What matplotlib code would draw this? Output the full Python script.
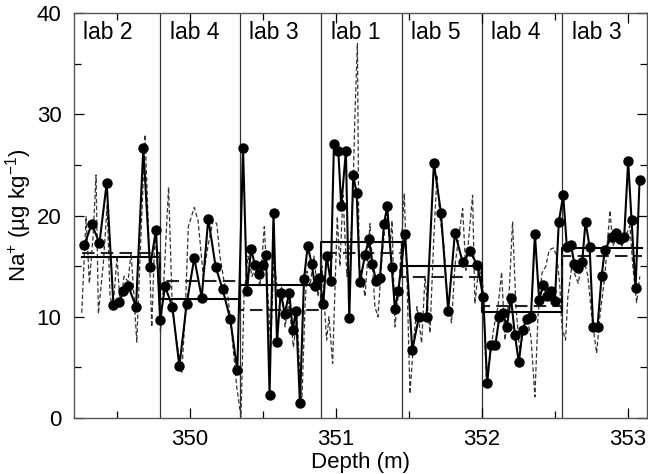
import numpy as np
import matplotlib
matplotlib.use("Agg")
import matplotlib.pyplot as plt

plt.rcParams['font.family'] = ['Liberation Sans', 'DejaVu Sans']
plt.rcParams['mathtext.fontset'] = 'custom'
plt.rcParams['mathtext.rm'] = 'Liberation Sans'
plt.rcParams['mathtext.it'] = 'Liberation Sans:italic'

# ---- data ----
depth = [349.276, 349.327, 349.379, 349.429, 349.475, 349.516, 349.543, 349.577, 349.630, 349.680,
         349.726, 349.767, 349.795,
         349.829, 349.879, 349.927, 349.977, 350.029, 350.080, 350.125, 350.176, 350.224, 350.276,
         350.324,
         350.363, 350.390, 350.418, 350.445, 350.473, 350.500, 350.521, 350.545, 350.572, 350.596,
         350.621, 350.649, 350.680, 350.703, 350.726, 350.753, 350.781, 350.806, 350.834, 350.856,
         350.886,
         350.913, 350.936, 350.964, 350.986, 351.016, 351.036, 351.068, 351.091, 351.118, 351.142,
         351.164, 351.199, 351.226, 351.249, 351.276, 351.301, 351.329, 351.351, 351.382, 351.404,
         351.427,
         351.473, 351.523, 351.568, 351.621, 351.671, 351.719, 351.769, 351.815, 351.868, 351.918,
         351.968,
         352.009, 352.036, 352.062, 352.092, 352.120, 352.144, 352.171, 352.199, 352.226, 352.253,
         352.279, 352.306, 352.336, 352.363, 352.392, 352.420, 352.449, 352.473, 352.500, 352.527,
         352.557, 352.582, 352.610, 352.634, 352.661, 352.687, 352.710, 352.738, 352.762, 352.792,
         352.820, 352.842, 352.888, 352.918, 352.945, 352.975, 353.002, 353.025, 353.053, 353.080]
na = [17.1, 19.2, 17.25, 23.2, 11.2, 11.5, 12.5, 13.0, 11.0, 26.7,
      14.9, 18.6, 9.7,
      13.0, 11.0, 5.1, 11.3, 15.8, 11.9, 19.7, 14.9, 12.7, 9.75,
      4.7,
      26.7, 12.5, 16.7, 15.1, 14.2, 15.1, 16.1, 2.3, 20.3, 7.5,
      12.4, 10.3, 12.4, 8.7, 10.6, 1.45, 13.7, 17.0, 15.2, 13.0,
      13.8,
      11.3, 16.0, 13.5, 27.1, 26.4, 20.9, 26.4, 9.85, 24.0, 22.2,
      13.4, 16.1, 17.7, 15.2, 13.5, 13.8, 19.2, 20.9, 14.9, 10.8,
      12.5,
      18.2, 6.7, 10.0, 10.0, 25.2, 20.3, 10.6, 18.3, 15.4, 16.5,
      15.1,
      12.0, 3.5, 7.2, 7.2, 10.0, 10.4, 9.0, 11.9, 8.2, 5.5,
      8.7, 9.8, 10.0, 18.2, 11.7, 13.1, 12.1, 12.5, 11.6, 19.4,
      22.0, 16.9, 17.1, 15.2, 14.8, 15.4, 19.4, 16.9, 9.0, 9.0,
      14.0, 16.6, 17.9, 18.3, 17.7, 17.9, 25.4, 19.6, 12.8, 23.5]

depth_hr = [349.258, 349.288, 349.310, 349.336, 349.356, 349.372, 349.406, 349.432, 349.452, 349.473,
            349.500, 349.521, 349.548, 349.575, 349.596, 349.616, 349.635, 349.658, 349.692, 349.712,
            349.738, 349.760, 349.781, 349.798, 349.822, 349.853, 349.879, 349.904, 349.943, 349.966,
            349.988, 350.029, 350.055, 350.091, 350.123, 350.158, 350.183, 350.205, 350.233, 350.260,
            350.288, 350.320, 350.349, 350.370, 350.397, 350.425, 350.452, 350.479, 350.509, 350.527,
            350.553, 350.575, 350.603, 350.630, 350.651, 350.678, 350.708, 350.733, 350.765, 350.788,
            350.801, 350.822, 350.849, 350.877, 350.904, 350.936, 350.952, 350.977, 351.009, 351.027,
            351.048, 351.075, 351.103, 351.116, 351.130, 351.147, 351.158, 351.178, 351.199, 351.233,
            351.267, 351.288, 351.315, 351.347, 351.370, 351.384, 351.404, 351.432, 351.468, 351.486,
            351.507, 351.534, 351.555, 351.587, 351.610, 351.644, 351.671, 351.692, 351.712, 351.740,
            351.767, 351.792, 351.815, 351.842, 351.868, 351.890, 351.936, 351.952, 351.979, 352.007,
            352.032, 352.055, 352.082, 352.110, 352.135, 352.158, 352.185, 352.210, 352.233, 352.260,
            352.288, 352.308, 352.336, 352.363, 352.384, 352.411, 352.438, 352.461, 352.488, 352.514,
            352.534, 352.548, 352.573, 352.589, 352.616, 352.660, 352.692, 352.726, 352.753, 352.786,
            352.808, 352.842, 352.877, 352.897, 352.932, 352.959, 352.986, 353.014, 353.034, 353.060,
            353.082]
na_hr = [10.4, 19.9, 13.3, 18.0, 24.0, 10.3, 15.3, 21.0, 12.0, 11.0,
         16.0, 11.0, 14.0, 13.5, 16.3, 12.0, 7.5, 16.0, 28.0, 20.0,
         9.0, 18.5, 14.0, 8.5, 14.0, 22.8, 10.7, 8.0, 4.4, 10.0,
         18.9, 20.8, 19.5, 14.0, 17.0, 19.5, 19.2, 16.0, 13.5, 12.0,
         8.0, 3.1, 0.1, 12.0, 16.0, 14.0, 15.0, 13.0, 18.9, 14.0,
         7.0, 16.0, 12.0, 13.0, 9.0, 11.5, 7.0, 10.0, 1.1, 11.0,
         14.5, 13.0, 16.0, 12.0, 15.0, 7.7, 10.0, 5.4, 19.9, 15.0,
         22.0, 14.0, 18.0, 22.0, 30.0, 37.0, 15.0, 14.0, 12.0, 19.2,
         11.0, 10.0, 16.0, 20.2, 17.0, 19.5, 9.0, 13.0, 22.2, 14.0,
         2.4, 8.0, 11.0, 7.4, 14.0, 8.4, 18.0, 24.0, 19.9, 17.0,
         11.0, 9.4, 15.0, 18.0, 20.7, 14.6, 22.0, 11.3, 15.0, 13.0,
         3.1, 6.0, 9.0, 11.0, 14.4, 7.7, 12.0, 19.4, 11.0, 6.4,
         9.0, 10.0, 8.0, 2.1, 10.0, 14.3, 15.0, 16.6, 16.8, 16.0,
         13.0, 9.0, 7.7, 12.0, 15.0, 13.3, 16.0, 14.0, 10.0, 6.4,
         10.0, 14.0, 20.5, 17.0, 18.0, 17.0, 18.0, 19.0, 15.0, 11.4,
         14.0]

labs = ['lab 2', 'lab 4', 'lab 3', 'lab 1', 'lab 5', 'lab 4', 'lab 3']
seg_edges = [349.258, 349.795, 350.34, 350.90, 351.45, 352.00, 352.55, 353.094]
mean_solid = [15.9, 11.75, 13.1, 17.35, 15.05, 10.5, 16.8]
mean_dashed = [16.3, 13.5, 10.7, 16.3, 13.95, 11.05, 16.0]

# ---- figure ----
fig = plt.figure(figsize=(6.48, 4.74), dpi=100)
ax = fig.add_axes([0.1142, 0.118, 0.884, 0.8545])

# boundaries
for b in seg_edges[1:-1]:
    ax.axvline(b, color='#333333', lw=0.9, zorder=1)

# high-resolution dashed record
ax.plot(depth_hr, na_hr, color='#333333', lw=0.9, dashes=(3.5, 2), zorder=2)

# lab means (step lines)
xs = np.array(seg_edges)
ax.step(xs, list(mean_solid) + [mean_solid[-1]], where='post', color='k', lw=1.5, zorder=3)
ax.step(xs, list(mean_dashed) + [mean_dashed[-1]], where='post', color='#222222', lw=1.5,
        dashes=(6, 3), zorder=3)

# main record
ax.plot(depth, na, color='k', lw=1.5, marker='o', ms=6.5, mfc='k', mec='k', zorder=4)

# lab names
for name, x0 in zip(labs, [349.205] + seg_edges[1:-1]):
    ax.text(x0 + 0.065, 38.1, name, fontsize=16.5, ha='left', va='center')

ax.set_xlim(349.205, 353.13)
ax.set_ylim(0, 40)
ax.set_xticks([350, 351, 352, 353])
ax.set_xticks([349.5, 350.5, 351.5, 352.5], minor=True)
ax.set_yticks([0, 10, 20, 30, 40])
ax.set_yticks([5, 15, 25, 35], minor=True)
ax.tick_params(which='both', direction='in', top=True, right=True, labelsize=16)
ax.tick_params(axis='x', which='both', pad=8)
ax.tick_params(axis='y', which='both', pad=9)
ax.tick_params(which='major', length=7, width=0.9)
ax.tick_params(which='minor', length=5, width=0.9)
for s in ax.spines.values():
    s.set_color('#555555')
    s.set_linewidth(1.0)

ax.set_xlabel('Depth (m)', fontsize=16, labelpad=1)
ax.set_ylabel('Na$^{+}$ (µg kg$^{-1}$)', fontsize=16, labelpad=2)

fig.savefig('out.png', dpi=100)
